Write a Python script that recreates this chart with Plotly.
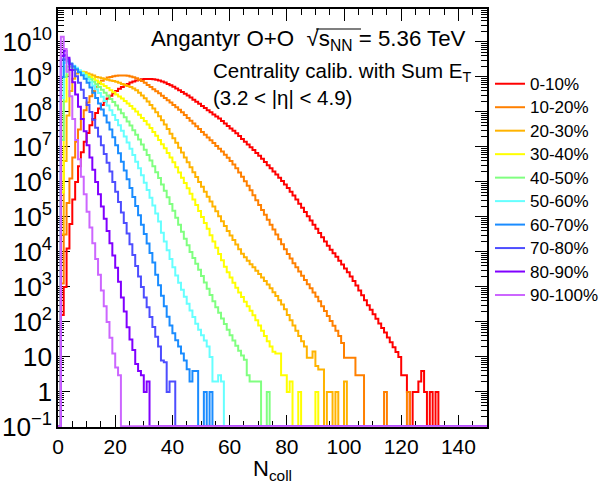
import plotly.graph_objects as go

# ---------------- data (log10 of counts per unit N_coll bin; None = empty bin) -------------
N_BINS = 150
labels = ["0-10%", "10-20%", "20-30%", "30-40%", "40-50%",
          "50-60%", "60-70%", "70-80%", "80-90%", "90-100%"]
colors = ["#ff0000", "#ff8000", "#ffb300", "#ffff00", "#80ff80",
          "#66ffff", "#1a8cff", "#4d4dff", "#8000ff", "#cc66ff"]

log_c0_10 = [None, 2.2, 3.0, 4.1, 4.8, 5.5, 6.0, 6.45, 6.85, 7.15,
             7.4, 7.62, 7.8, 7.97, 8.1, 8.2, 8.3, 8.38, 8.46, 8.53,
             8.6, 8.66, 8.71, 8.76, 8.8, 8.84, 8.87, 8.9, 8.92, 8.93,
             8.94, 8.94, 8.94, 8.93, 8.92, 8.9, 8.87, 8.84, 8.8, 8.76,
             8.72, 8.67, 8.62, 8.57, 8.52, 8.47, 8.41, 8.35, 8.29, 8.23,
             8.17, 8.11, 8.05, 7.99, 7.93, 7.87, 7.81, 7.74, 7.67, 7.6,
             7.53, 7.46, 7.39, 7.31, 7.23, 7.15, 7.07, 6.99, 6.91, 6.83,
             6.75, 6.66, 6.57, 6.48, 6.39, 6.3, 6.21, 6.12, 6.03, 5.93,
             5.83, 5.72, 5.61, 5.5, 5.38, 5.26, 5.14, 5.02, 4.9, 4.78,
             4.66, 4.54, 4.42, 4.3, 4.18, 4.06, 3.96, 3.86, 3.75, 3.64,
             3.53, 3.42, 3.3, 3.17, 3.04, 2.9, 2.76, 2.62, 2.48, 2.35,
             2.22, 2.09, 1.96, 1.83, 1.7, 1.56, 1.42, 1.28, 1.14, 1.0,
             0.48, 0.48, 0.0, None, 0.0, 0.0, 0.3, 0.6, 0.0, None,
             0.0, None, 0.0]
log_c10_20 = [None, 3.1, 4.5, 5.4, 6.1, 6.7, 7.15, 7.5, 7.8, 8.05,
              8.27, 8.45, 8.6, 8.72, 8.82, 8.89, 8.94, 8.98, 9.0, 9.02,
              9.03, 9.04, 9.04, 9.04, 9.03, 9.01, 8.99, 8.96, 8.92, 8.88,
              8.83, 8.77, 8.71, 8.65, 8.59, 8.53, 8.46, 8.4, 8.33, 8.27,
              8.2, 8.13, 8.06, 7.99, 7.91, 7.83, 7.75, 7.67, 7.59, 7.51,
              7.43, 7.35, 7.27, 7.19, 7.11, 7.03, 6.95, 6.87, 6.78, 6.69,
              6.6, 6.5, 6.39, 6.27, 6.15, 6.02, 5.89, 5.76, 5.62, 5.48,
              5.34, 5.2, 5.06, 4.92, 4.78, 4.64, 4.5, 4.36, 4.22, 4.08,
              3.94, 3.81, 3.68, 3.56, 3.44, 3.32, 3.2, 3.08, 2.96, 2.84,
              2.72, 2.59, 2.45, 2.31, 2.17, 2.03, 1.89, 1.75, 1.6, 1.4,
              0.98, 0.98, 0.98, 0.98, 0.48, 0.48, 0.48, None, None, None,
              None, None, None, None, 0.0, None, None, None, None, None,
              None, None, 0.0]
log_c20_30 = [None, 4.5, 6.6, 7.9, 8.6, 8.95, 9.1, 9.15, 9.15, 9.13,
              9.1, 9.07, 9.04, 9.0, 8.98, 8.96, 8.94, 8.92, 8.9, 8.88,
              8.86, 8.83, 8.8, 8.77, 8.74, 8.71, 8.67, 8.62, 8.55, 8.47,
              8.39, 8.3, 8.2, 8.1, 7.99, 7.88, 7.76, 7.64, 7.51, 7.38,
              7.25, 7.12, 6.98, 6.84, 6.7, 6.56, 6.42, 6.28, 6.14, 6.0,
              5.86, 5.72, 5.58, 5.44, 5.3, 5.16, 5.02, 4.88, 4.74, 4.6,
              4.47, 4.34, 4.21, 4.08, 3.95, 3.85, 3.75, 3.65, 3.56, 3.46,
              3.37, 3.27, 3.17, 3.07, 2.96, 2.85, 2.74, 2.62, 2.5, 2.36,
              2.2, 2.05, 1.9, 1.75, 1.6, 1.45, 1.3, 0.98, 0.98, 1.16,
              0.74, 0.64, 0.64, None, 0.0, 0.0, None, 0.0, None, None,
              0.3]
log_c30_40 = [None, 5.7, 8.3, 9.05, 9.2, 9.22, 9.2, 9.17, 9.13, 9.09,
              9.05, 9.0, 8.95, 8.9, 8.85, 8.79, 8.74, 8.68, 8.62, 8.56,
              8.5, 8.44, 8.38, 8.31, 8.24, 8.17, 8.09, 8.01, 7.92, 7.83,
              7.74, 7.64, 7.54, 7.43, 7.32, 7.2, 7.08, 6.96, 6.83, 6.7,
              6.56, 6.42, 6.27, 6.12, 5.97, 5.82, 5.66, 5.5, 5.34, 5.17,
              5.0, 4.83, 4.66, 4.48, 4.3, 4.12, 3.94, 3.76, 3.58, 3.42,
              3.27, 3.12, 2.98, 2.84, 2.71, 2.58, 2.45, 2.32, 2.19, 2.05,
              1.9, 1.75, 1.6, 1.45, 1.3, 1.15, 1.1, 1.1, 0.48, 0.48,
              0.0, 0.3, None, None, 0.0, None, None, None, None, None,
              0.0]
log_c40_50 = [None, 7.2, 9.0, 9.3, 9.3, 9.26, 9.22, 9.17, 9.12, 9.06,
              9.0, 8.93, 8.86, 8.79, 8.71, 8.63, 8.55, 8.46, 8.37, 8.28,
              8.18, 8.07, 7.96, 7.85, 7.73, 7.61, 7.48, 7.35, 7.21, 7.07,
              6.92, 6.77, 6.61, 6.45, 6.28, 6.11, 5.93, 5.75, 5.56, 5.37,
              5.18, 4.98, 4.78, 4.58, 4.38, 4.19, 4.0, 3.83, 3.66, 3.49,
              3.31, 3.13, 2.95, 2.77, 2.59, 2.42, 2.26, 2.1, 1.94, 1.78,
              1.62, 1.47, 1.32, 1.18, 1.04, 0.92, 0.48, 0.3, 0.3, 0.3,
              0.3, None, None, 0.0]
log_c50_60 = [None, 8.4, 9.4, 9.42, 9.37, 9.32, 9.26, 9.19, 9.11, 9.03,
              8.94, 8.85, 8.75, 8.65, 8.54, 8.43, 8.31, 8.18, 8.05, 7.91,
              7.77, 7.62, 7.46, 7.3, 7.13, 6.95, 6.77, 6.58, 6.39, 6.19,
              5.98, 5.77, 5.55, 5.33, 5.1, 4.87, 4.55, 4.3, 4.05, 3.8,
              3.56, 3.33, 3.12, 2.92, 2.72, 2.52, 2.33, 2.14, 1.95, 1.78,
              1.62, 1.47, 1.3, 1.0, 0.3, 0.3, 0.48, 0.3]
log_c60_70 = [None, 9.0, 9.5, 9.45, 9.38, 9.3, 9.22, 9.13, 9.05, 8.95,
              8.83, 8.7, 8.55, 8.4, 8.24, 8.07, 7.9, 7.7, 7.5, 7.28,
              7.05, 6.82, 6.58, 6.33, 6.08, 5.83, 5.57, 5.31, 5.05, 4.78,
              4.51, 4.24, 3.97, 3.7, 3.35, 3.05, 2.75, 2.45, 2.15, 1.9,
              1.68, 1.48, 1.3, 1.1, 0.9, 0.65, 0.3, 0.6, 0.6, None,
              None, 0.0, None, 0.0]
log_c70_80 = [None, 9.5, 9.62, 9.5, 9.36, 9.2, 9.02, 8.83, 8.63, 8.4,
              8.2, 8.0, 7.78, 7.55, 7.3, 7.05, 6.8, 6.55, 6.3, 6.0,
              5.72, 5.43, 5.13, 4.83, 4.53, 4.22, 3.91, 3.6, 3.3, 3.0,
              2.7, 2.42, 2.14, 1.86, 1.58, 1.3, 0.9, 0.85, 0.0, 0.3,
              0.3]
log_c80_90 = [None, 9.6, 9.75, 9.55, 9.2, 8.85, 8.5, 8.15, 7.8, 7.45,
              7.05, 6.7, 6.35, 6.0, 5.65, 5.3, 4.95, 4.6, 4.25, 3.9,
              3.55, 3.15, 2.7, 2.3, 1.85, 1.5, 1.2, 0.8, 0.6, 0.48,
              0.0, 0.3]
log_c90_100 = [None, 10.15, 9.8, 9.15, 8.45, 7.8, 7.2, 6.65, 6.15, 5.65,
               5.15, 4.7, 4.25, 3.8, 3.35, 2.9, 2.45, 2.0, 1.55, 1.1,
               0.7, 0.48]

series = [log_c0_10, log_c10_20, log_c20_30, log_c30_40, log_c40_50,
          log_c50_60, log_c60_70, log_c70_80, log_c80_90, log_c90_100]

Y_MIN_LOG, Y_MAX_LOG = -1.0, 10.94
FLOOR = 10 ** (Y_MIN_LOG + 0.02)  # empty bins sit on the frame bottom (ROOT style)

FONT = "Liberation Sans, Arial, Helvetica, sans-serif"
W, H = 613, 484
L, R, T, B = 58, 126, 9, 57


def fx(p):
    return (p - L) / (W - L - R)


def fy(p):
    return (H - B - p) / (H - T - B)


fig = go.Figure()
edges = list(range(N_BINS + 1))
for name, col, logs in zip(labels, colors, series):
    counts = []
    for i in range(N_BINS):
        v = logs[i] if i < len(logs) else None
        counts.append(10 ** v if v is not None else FLOOR)
    counts.append(counts[-1])
    fig.add_trace(go.Scatter(
        x=edges, y=counts, mode="lines",
        name="<span style='font-size:17px'>%s</span>" % name,
        line=dict(shape="hv", color=col, width=2),
        hoverinfo="skip"))

axis_common = dict(
    showline=True, linecolor="black", linewidth=1.5, mirror="allticks",
    ticks="inside", tickcolor="black", tickwidth=1, ticklen=12,
    showgrid=False, zeroline=False, layer="below traces", automargin=False,
    tickfont=dict(family=FONT, size=21, color="black"),
)

fig.update_layout(
    width=W, height=H,
    margin=dict(l=L, r=R, t=T, b=B, autoexpand=False),
    paper_bgcolor="white", plot_bgcolor="white",
    font=dict(family=FONT, color="black"),
    xaxis=dict(range=[0, 150], tick0=0, dtick=20,
               minor=dict(ticks="inside", ticklen=6, dtick=5, tickcolor="black"),
               title=dict(text="N<sub>coll</sub>", font=dict(family=FONT, size=22), standoff=4),
               **axis_common),
    yaxis=dict(type="log", range=[Y_MIN_LOG, Y_MAX_LOG], dtick=1,
               exponentformat="power",
               minor=dict(ticks="inside", ticklen=6, dtick="D1", tickcolor="black"),
               **axis_common),
    legend=dict(x=fx(490), y=fy(67), xanchor="left", yanchor="top",
                font=dict(family=FONT, size=15.75, color="black"),
                bgcolor="rgba(0,0,0,0)", borderwidth=0, itemwidth=30,
                tracegroupgap=0),
    showlegend=True,
)

fig.add_annotation(x=fx(149), y=fy(40), xref="paper", yref="paper",
                   xanchor="left", yanchor="middle", showarrow=False,
                   text="Angantyr O+O  \u221as<sub>NN</sub> = 5.36 TeV",
                   font=dict(family=FONT, size=22.3, color="black"))
fig.add_annotation(x=fx(211), y=fy(72), xref="paper", yref="paper",
                   xanchor="left", yanchor="middle", showarrow=False,
                   text="Centrality calib. with Sum E<sub>T</sub>",
                   font=dict(family=FONT, size=20.5, color="black"))
fig.add_annotation(x=fx(211), y=fy(98), xref="paper", yref="paper",
                   xanchor="left", yanchor="middle", showarrow=False,
                   text="(3.2 < |\u03b7| < 4.9)",
                   font=dict(family=FONT, size=20.5, color="black"))
# overline of the square-root sign
fig.add_shape(type="line", xref="paper", yref="paper",
              x0=fx(316), x1=fx(361), y0=fy(29), y1=fy(29),
              line=dict(color="black", width=1.2))

fig.write_html("out.html")
